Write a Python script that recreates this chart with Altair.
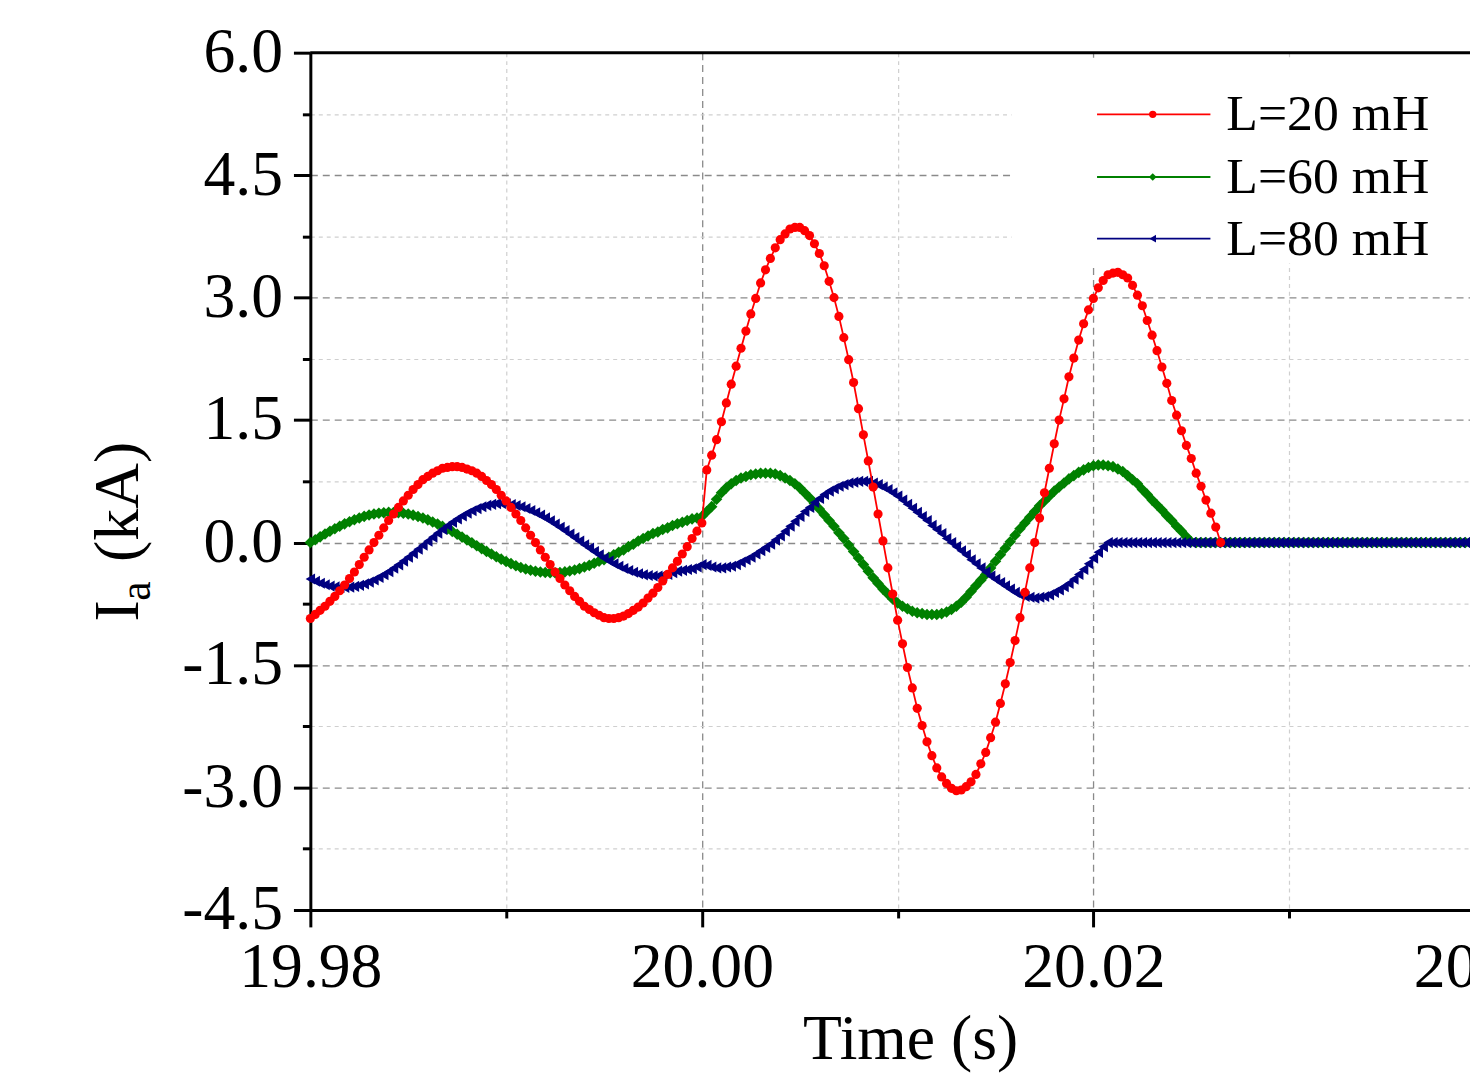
import altair as alt
import pandas as pd

FONT = "Liberation Serif"
DT = 0.00025  # sampling step of the recorded waveforms (s)

# ---------------- L = 20 mH (red) ----------------
RED_A_START = 19.98
RED_A = [-0.93, -0.88, -0.83, -0.78, -0.72, -0.66, -0.59, -0.52, -0.44, -0.36,
         -0.27, -0.18, -0.09, 0.00, 0.09, 0.18, 0.27, 0.35, 0.43, 0.51,
         0.58, 0.65, 0.71, 0.77, 0.81, 0.85, 0.88, 0.91, 0.92, 0.93,
         0.93, 0.92, 0.90, 0.88, 0.85, 0.81, 0.76, 0.71, 0.65, 0.58,
         0.51, 0.43, 0.35, 0.27, 0.18, 0.09, 0.00, -0.09, -0.18, -0.27,
         -0.36, -0.44, -0.52, -0.59, -0.66, -0.72, -0.78, -0.82, -0.86, -0.89,
         -0.92, -0.93, -0.93, -0.92, -0.90, -0.87, -0.83, -0.79, -0.74, -0.68,
         -0.62, -0.55, -0.47, -0.39, -0.31, -0.23, -0.14, -0.05, 0.05, 0.14,
         0.24]
RED_B_START = 20.00025
RED_B = [0.89, 1.07, 1.26, 1.48, 1.71, 1.94, 2.16, 2.38, 2.59, 2.80,
         2.99, 3.18, 3.34, 3.48, 3.61, 3.71, 3.78, 3.84, 3.86, 3.86,
         3.82, 3.76, 3.66, 3.54, 3.39, 3.20, 3.00, 2.77, 2.51, 2.24,
         1.96, 1.64, 1.32, 1.00, 0.68, 0.35, 0.02, -0.31, -0.63, -0.95,
         -1.24, -1.53, -1.78, -2.03, -2.24, -2.44, -2.61, -2.76, -2.87, -2.95,
         -3.01, -3.04, -3.03, -2.99, -2.93, -2.84, -2.71, -2.57, -2.39, -2.20,
         -1.97, -1.73, -1.47, -1.20, -0.92, -0.61, -0.31, 0.00, 0.30, 0.61,
         0.91, 1.21, 1.50, 1.76, 2.03, 2.26, 2.48, 2.68, 2.85, 2.99,
         3.12, 3.21, 3.28, 3.30, 3.31, 3.28, 3.24, 3.15, 3.03, 2.90,
         2.72, 2.54, 2.35, 2.15, 1.95, 1.74, 1.56, 1.37, 1.19, 1.03,
         0.85, 0.69, 0.52, 0.36, 0.19, 0.00]

# ---------------- L = 60 mH (green) ----------------
GREEN_A_START = 19.98
GREEN_A = [0.000, 0.035, 0.070, 0.105, 0.138, 0.170, 0.201, 0.229, 0.256, 0.280,
           0.302, 0.321, 0.337, 0.350, 0.360, 0.366, 0.370, 0.369, 0.366, 0.359,
           0.349, 0.336, 0.319, 0.300, 0.278, 0.253, 0.227, 0.198, 0.167, 0.135,
           0.102, 0.067, 0.032, -0.003, -0.039, -0.074, -0.108, -0.141, -0.173, -0.203,
           -0.232, -0.258, -0.283, -0.305, -0.323, -0.339, -0.352, -0.361, -0.367, -0.370,
           -0.369, -0.366, -0.359, -0.349, -0.335, -0.319, -0.300, -0.279, -0.254, -0.227,
           -0.21, -0.18, -0.15, -0.12, -0.09, -0.05, -0.02, 0.02, 0.05, 0.08,
           0.11, 0.13, 0.16, 0.18, 0.21, 0.23, 0.25, 0.27, 0.29, 0.30,
           0.32]
GREEN_B_START = 20.00025
GREEN_B = [0.38, 0.44, 0.53, 0.61, 0.67, 0.72, 0.76, 0.79, 0.81, 0.83,
           0.84, 0.85, 0.85, 0.85, 0.84, 0.82, 0.79, 0.76, 0.72, 0.67,
           0.61, 0.55, 0.48, 0.41, 0.34, 0.27, 0.20, 0.12, 0.05, -0.03,
           -0.11, -0.19, -0.27, -0.35, -0.43, -0.50, -0.57, -0.63, -0.69, -0.74,
           -0.78, -0.81, -0.84, -0.86, -0.87, -0.88, -0.88]
GREEN_C_START = 20.012
GREEN_C = [-0.88, -0.87, -0.85, -0.82, -0.78, -0.73, -0.67, -0.60, -0.53, -0.46,
           -0.39, -0.31, -0.23, -0.15, -0.07, 0.01, 0.09, 0.17, 0.24, 0.31,
           0.38, 0.45, 0.51, 0.57, 0.63, 0.68, 0.73, 0.78, 0.82, 0.86,
           0.89, 0.92, 0.94, 0.95, 0.95, 0.94, 0.93, 0.90, 0.87, 0.82,
           0.77, 0.72, 0.65, 0.59, 0.52, 0.46, 0.40, 0.33, 0.27, 0.20,
           0.14, 0.07, 0.01, 0.00]
GREEN_D_START = 20.0255
GREEN_D = [0.0, 0.0, 0.0, 0.0, 0.0, 0.0, 0.0, 0.0, 0.0, 0.0,
           0.0, 0.0, 0.0, 0.0, 0.0, 0.0, 0.0, 0.0, 0.0, 0.0,
           0.0, 0.0, 0.0, 0.0, 0.0, 0.0, 0.0, 0.0, 0.0, 0.0,
           0.0, 0.0, 0.0, 0.0, 0.0, 0.0, 0.0, 0.0, 0.0, 0.0,
           0.0, 0.0, 0.0, 0.0, 0.0, 0.0, 0.0, 0.0, 0.0, 0.0,
           0.0, 0.0, 0.0, 0.0, 0.0, 0.0, 0.0, 0.0, 0.0]

# ---------------- L = 80 mH (blue) ----------------
BLUE_A_START = 19.98
BLUE_A = [-0.446, -0.474, -0.498, -0.517, -0.533, -0.543, -0.549, -0.550, -0.546, -0.537,
          -0.524, -0.506, -0.484, -0.457, -0.427, -0.393, -0.356, -0.315, -0.273, -0.227,
          -0.180, -0.132, -0.082, -0.033, 0.017, 0.066, 0.115, 0.161, 0.206, 0.249,
          0.289, 0.326, 0.359, 0.390, 0.416, 0.438, 0.455, 0.468, 0.477, 0.480,
          0.475, 0.467, 0.454, 0.438, 0.417, 0.393, 0.366, 0.336, 0.302, 0.266,
          0.228, 0.188, 0.147, 0.104, 0.061, 0.018, -0.026, -0.068, -0.110, -0.150,
          -0.189, -0.225, -0.259, -0.290, -0.317, -0.342, -0.364, -0.382, -0.395, -0.404,
          -0.409, -0.410, -0.40, -0.39, -0.37, -0.35, -0.34, -0.33, -0.32, -0.30,
          -0.27, -0.28, -0.30, -0.31, -0.31, -0.30, -0.29, -0.27]
BLUE_B_START = 20.002
BLUE_B = [-0.24, -0.21, -0.18, -0.14, -0.10, -0.06, -0.02, 0.03, 0.08, 0.14,
          0.20, 0.26, 0.32, 0.38, 0.43, 0.49, 0.54, 0.59, 0.63, 0.66,
          0.69, 0.71, 0.73, 0.74, 0.75, 0.75, 0.75, 0.73, 0.71, 0.68,
          0.65, 0.61, 0.57, 0.52, 0.47, 0.42, 0.37, 0.32, 0.27, 0.21,
          0.16, 0.11, 0.05, 0.00, -0.05, -0.10, -0.15, -0.21, -0.26, -0.31,
          -0.36, -0.41, -0.45, -0.49, -0.53, -0.57, -0.61, -0.64, -0.66, -0.67,
          -0.68, -0.67, -0.66, -0.64, -0.61, -0.58, -0.54, -0.50, -0.45, -0.39,
          -0.33, -0.26, -0.19, -0.12, -0.05, 0.00]
BLUE_C_START = 20.021
BLUE_C = [0.0, 0.0, 0.0, 0.0, 0.0, 0.0, 0.0, 0.0, 0.0, 0.0,
          0.0, 0.0, 0.0, 0.0, 0.0, 0.0, 0.0, 0.0, 0.0, 0.0,
          0.0, 0.0, 0.0, 0.0, 0.0, 0.0, 0.0, 0.0, 0.0, 0.0,
          0.0, 0.0, 0.0, 0.0, 0.0, 0.0, 0.0, 0.0, 0.0, 0.0,
          0.0, 0.0, 0.0, 0.0, 0.0, 0.0, 0.0, 0.0, 0.0, 0.0,
          0.0, 0.0, 0.0, 0.0, 0.0, 0.0, 0.0, 0.0, 0.0, 0.0,
          0.0, 0.0, 0.0, 0.0, 0.0, 0.0, 0.0, 0.0, 0.0, 0.0,
          0.0, 0.0, 0.0, 0.0, 0.0, 0.0, 0.0]

SERIES = ["L=20 mH", "L=60 mH", "L=80 mH"]
COLORS = ["#ff0000", "#008000", "#000080"]
LEFT_TRIANGLE = "M0.85,-1L-0.85,0L0.85,1Z"
SHAPES = ["circle", "diamond", LEFT_TRIANGLE]
MARK_SIZES = [85, 135, 125]
LEG_SIZES = [55, 60, 60]

X_MAJOR = [19.98, 20.00, 20.02, 20.04]
X_MINOR = [19.99, 20.01, 20.03]
Y_MAJOR = [-4.5, -3.0, -1.5, 0.0, 1.5, 3.0, 4.5, 6.0]
Y_MINOR = [-3.75, -2.25, -0.75, 0.75, 2.25, 3.75, 5.25]


def segs_to_rows(name, segs):
    rows = []
    for start, vals in segs:
        for i, v in enumerate(vals):
            rows.append({"series": name, "t": round(start + i * DT, 6), "v": v})
    return rows


rows = []
rows += segs_to_rows(SERIES[0], [(RED_A_START, RED_A), (RED_B_START, RED_B)])
rows += segs_to_rows(SERIES[1], [(GREEN_A_START, GREEN_A), (GREEN_B_START, GREEN_B),
                                 (GREEN_C_START, GREEN_C), (GREEN_D_START, GREEN_D)])
rows += segs_to_rows(SERIES[2], [(BLUE_A_START, BLUE_A), (BLUE_B_START, BLUE_B),
                                 (BLUE_C_START, BLUE_C)])
df = pd.DataFrame(rows)

W_RANGE = 1181   # pixel span of 19.98 .. 20.04 (the right end runs off the page)
H = 862

xscale = alt.Scale(domain=[19.98, 20.04], range=[0, W_RANGE], nice=False, zero=False)
yscale = alt.Scale(domain=[-4.5, 6.0], nice=False, zero=False)

x_major_axis = alt.Axis(
    orient="bottom", values=X_MAJOR, format=".2f", title="Time (s)",
    labelFont=FONT, labelFontSize=64, labelColor="black", labelPadding=9,
    labelFlush=False, labelOverlap=False,
    titleFont=FONT, titleFontSize=64, titleFontWeight="normal", titleColor="black",
    titleX=603, titleY=149, titleBaseline="alphabetic", titleAlign="center",
    tickSize=17, tickWidth=3, tickColor="black",
    domainColor="black", domainWidth=3,
    grid=True, gridColor="#8a8a8a", gridDash=[7, 5], gridWidth=1.3,
)
y_major_axis = alt.Axis(
    orient="left", values=Y_MAJOR, title=None,
    labelExpr="(datum.value < 0 ? '-' : '') + format(abs(datum.value), '.1f')",
    labelFont=FONT, labelFontSize=64, labelColor="black", labelPadding=11,
    labelFlush=False, labelOverlap=False, labelBaseline="middle",
    tickSize=17, tickWidth=3, tickColor="black",
    domainColor="black", domainWidth=3,
    grid=True, gridColor="#8a8a8a", gridDash=[7, 5], gridWidth=1.3,
)
x_minor_axis = alt.Axis(
    orient="bottom", values=X_MINOR, labels=False, title=None, domain=False,
    tickSize=8, tickWidth=3, tickColor="black",
    grid=True, gridColor="#cfcfcf", gridDash=[4, 4], gridWidth=1.2,
)
y_minor_axis = alt.Axis(
    orient="left", values=Y_MINOR, labels=False, title=None, domain=False,
    tickSize=8, tickWidth=3, tickColor="black",
    grid=True, gridColor="#cfcfcf", gridDash=[4, 4], gridWidth=1.2,
)

anchor = pd.DataFrame({"t": [19.98], "v": [0.0]})
minor_layer = alt.Chart(anchor).mark_point(opacity=0).encode(
    x=alt.X("t:Q", scale=xscale, axis=x_minor_axis),
    y=alt.Y("v:Q", scale=yscale, axis=y_minor_axis),
)

base = alt.Chart(df).encode(
    x=alt.X("t:Q", scale=xscale, axis=x_major_axis),
    y=alt.Y("v:Q", scale=yscale, axis=y_major_axis),
)

data_layers = []
for idx in [1, 2, 0]:  # green, blue, then red on top
    sub = base.transform_filter(alt.datum.series == SERIES[idx])
    data_layers.append(sub.mark_line(color=COLORS[idx], strokeWidth=1.8))
    data_layers.append(sub.mark_point(shape=SHAPES[idx], filled=True, size=MARK_SIZES[idx],
                                      color=COLORS[idx], opacity=1))

one = pd.DataFrame({"a": [0]})
top_frame = alt.Chart(one).mark_rule(color="black", strokeWidth=3).encode(
    x=alt.value(0), x2=alt.value(W_RANGE), y=alt.value(0))

# legend (white box, sample line + marker, label)
legend_layers = [
    alt.Chart(one).mark_rect(color="white").encode(
        x=alt.value(705), x2=alt.value(1166), y=alt.value(5), y2=alt.value(212))
]
LEG_Y = [62, 125, 187]
for i, name in enumerate(SERIES):
    legend_layers.append(alt.Chart(one).mark_rule(color=COLORS[i], strokeWidth=1.8).encode(
        x=alt.value(791), x2=alt.value(905), y=alt.value(LEG_Y[i])))
    legend_layers.append(alt.Chart(one).mark_point(shape=SHAPES[i], filled=True,
                                                   size=LEG_SIZES[i],
                                                   color=COLORS[i], opacity=1).encode(
        x=alt.value(847), y=alt.value(LEG_Y[i])))
    legend_layers.append(alt.Chart(one).mark_text(
        text=name, font=FONT, fontSize=52, color="black", align="left",
        baseline="alphabetic").encode(x=alt.value(921), y=alt.value(LEG_Y[i] + 16)))

# y-axis title with subscript: I_a (kA)
ytitle = [
    alt.Chart(one).mark_text(text="I", font=FONT, fontSize=64, color="black", angle=270,
                             align="left", baseline="alphabetic").encode(
        x=alt.value(-173), y=alt.value(572)),
    alt.Chart(one).mark_text(text="a", font=FONT, fontSize=44, color="black", angle=270,
                             align="left", baseline="alphabetic").encode(
        x=alt.value(-161), y=alt.value(551)),
    alt.Chart(one).mark_text(text="(kA)", font=FONT, fontSize=64, color="black", angle=270,
                             align="left", baseline="alphabetic").encode(
        x=alt.value(-173), y=alt.value(512)),
]

main_layer = alt.layer(*data_layers, top_frame, *legend_layers, *ytitle)

chart = alt.layer(minor_layer, main_layer).resolve_scale(
    x="independent", y="independent"
).properties(
    width=1166, height=H,
    padding={"left": 304, "top": 42, "right": 0, "bottom": 164},
    autosize=alt.AutoSizeParams(type="none"),
    background="white",
).configure_view(stroke=None)

chart.save("out.html", embed_options={"renderer": "svg", "actions": False})
